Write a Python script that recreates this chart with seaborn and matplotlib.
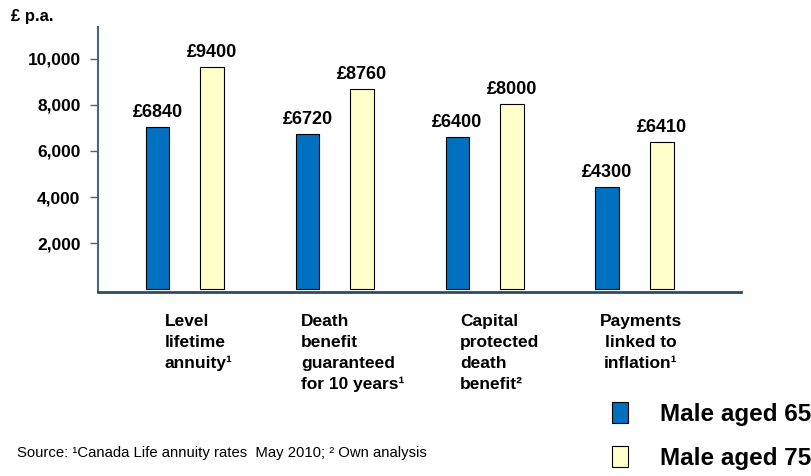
import pandas as pd
import matplotlib.pyplot as plt
import seaborn as sns

# values
options = [
    "Level\nlifetime\nannuity¹",
    "Death\nbenefit\nguaranteed\nfor 10 years¹",
    "Capital\nprotected\ndeath\nbenefit²",
    "Payments\nlinked to\ninflation¹",
]
groups = ["Male aged 65", "Male aged 75"]
heights_65 = [7050, 6750, 6620, 4450]
heights_75 = [9650, 8680, 8040, 6400]
labels_65 = ["£6840", "£6720", "£6400", "£4300"]
labels_75 = ["£9400", "£8760", "£8000", "£6410"]
yticks = [2000, 4000, 6000, 8000, 10000]
source = "Source: ¹Canada Life annuity rates  May 2010; ² Own analysis"

colors = ["#0070C0", "#FFFFCC"]
axis_col = "#46667f"

df = pd.DataFrame({
    "option": options * 2,
    "group": [groups[0]] * len(options) + [groups[1]] * len(options),
    "value": heights_65 + heights_75,
})

sns.set_theme(style="white")
plt.rcParams["font.family"] = ["Liberation Sans", "DejaVu Sans"]
plt.rcParams["text.color"] = "black"
plt.rcParams["ytick.labelcolor"] = "black"

fig = plt.figure(figsize=(8.11, 4.76), dpi=100)
ax = fig.add_axes([0.1208, 0.3866, 0.7929, 0.5573])

sns.barplot(
    data=df, x="option", y="value", hue="group", order=options,
    palette=colors, saturation=1, width=0.73, gap=0.57,
    edgecolor="black", linewidth=0.8, ax=ax,
)

ax.set_xlim(-0.58, 3.71)
ax.set_ylim(-110, 11380)
ax.set_xlabel("")
ax.set_ylabel("")
ax.set_xticks(range(len(options)))
ax.set_xticklabels([])
ax.tick_params(axis="x", length=0)
ax.set_yticks(yticks, labels=[f"{v:,}" for v in yticks],
              fontweight="bold", fontsize=12.5, color="black")
ax.tick_params(axis="y", direction="out", length=5.5, width=1,
               color=axis_col, labelcolor="black", pad=7, left=True)

sns.despine(ax=ax)
ax.spines["left"].set_color(axis_col)
ax.spines["left"].set_linewidth(1.5)
ax.spines["bottom"].set_color("#2d4b63")
ax.spines["bottom"].set_linewidth(2)

for cont, labs in zip(ax.containers, [labels_65, labels_75]):
    ax.bar_label(cont, labels=labs, padding=4, fontsize=13,
                 fontweight="bold", color="black")

# category labels under the axis
label_dx = [-0.134, -0.226, -0.163, 0.04]
label_ha = ["left", "left", "left", "center"]
for i, (txt, dx, ha) in enumerate(zip(options, label_dx, label_ha)):
    ax.text(i + dx, -0.082, txt, transform=ax.get_xaxis_transform(),
            ha=ha, va="top", multialignment="center" if ha == "center" else "left",
            fontsize=12.5, fontweight="bold", linespacing=1.5, color="black")

sns.move_legend(
    ax, loc="upper left", bbox_to_anchor=(0.799, -0.415), title=None,
    frameon=False, prop={"weight": "bold", "size": 17.5},
    handlelength=0.67, handleheight=0.92, handletextpad=1.3,
    labelspacing=0.85, borderpad=0, borderaxespad=0,
)
for t in ax.get_legend().get_texts():
    t.set_color("black")

fig.text(11 / 811, 1 - 17 / 476, "£ p.a.", fontsize=12, fontweight="bold", va="center")
fig.text(17 / 811, 1 - 453 / 476, source, fontsize=10.7, va="center")

fig.savefig("out.png", dpi=100)
